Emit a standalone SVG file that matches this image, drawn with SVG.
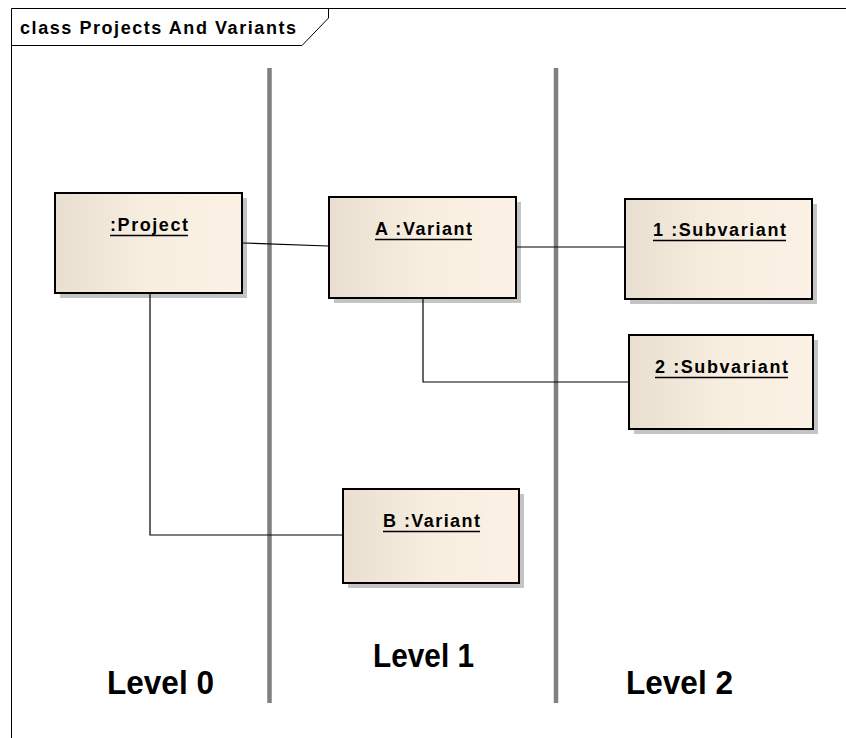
<svg xmlns="http://www.w3.org/2000/svg" width="846" height="738" viewBox="0 0 846 738">
<defs>
<linearGradient id="fill" x1="0" y1="0" x2="1" y2="0">
<stop offset="0" stop-color="#e8dfd0"/>
<stop offset="0.5" stop-color="#f7eee0"/>
<stop offset="1" stop-color="#fbf1e4"/>
</linearGradient>
<style>
.frame{fill:none;stroke:#000;stroke-width:1}
.title{font-family:"Liberation Sans",Arial,sans-serif;font-weight:bold;font-size:18px;fill:#000}
.shadow{fill:#c4c4c4}
.box{fill:url(#fill);stroke:#000;stroke-width:2}
.name{font-family:"Liberation Sans",Arial,sans-serif;font-weight:bold;font-size:18px;fill:#000;text-anchor:start}
.ul{stroke:#000;stroke-width:1.5}
.conn{fill:none;stroke:#000;stroke-width:1.2}
.sep{stroke:#808080;stroke-width:4.5}
.level{font-family:"Liberation Sans",Arial,sans-serif;font-weight:bold;font-size:33px;fill:#000}
</style>
</defs>
<rect width="846" height="738" fill="#fff"/>
<g id="frame">
<path class="frame" d="M11.5,738 V8.5 H846"/>
<path class="frame" d="M11.5,45.5 H302 L328.5,18 V8.5"/>
<text class="title" x="20" y="34" textLength="276" lengthAdjust="spacing">class Projects And Variants</text>
</g>
<g id="separators">
<line class="sep" x1="269.5" y1="68" x2="269.5" y2="703"/>
<line class="sep" x1="556" y1="68" x2="556" y2="703"/>
</g>
<g id="project">
<rect class="shadow" x="60" y="198" width="187" height="100"/>
<rect class="box" x="55" y="193" width="187" height="100"/>
<text class="name" x="110" y="231" textLength="78" lengthAdjust="spacing">:Project</text>
<line class="ul" x1="110" y1="235.5" x2="188" y2="235.5"/>
</g>
<g id="variantA">
<rect class="shadow" x="334" y="202" width="187" height="101"/>
<rect class="box" x="329" y="197" width="187" height="101"/>
<text class="name" x="375" y="235" textLength="97" lengthAdjust="spacing">A :Variant</text>
<line class="ul" x1="375" y1="239.5" x2="472" y2="239.5"/>
</g>
<g id="subvariant1">
<rect class="shadow" x="630" y="204" width="187" height="100"/>
<rect class="box" x="625" y="199" width="187" height="100"/>
<text class="name" x="653" y="236" textLength="133" lengthAdjust="spacing">1 :Subvariant</text>
<line class="ul" x1="653" y1="240.5" x2="786" y2="240.5"/>
</g>
<g id="subvariant2">
<rect class="shadow" x="634" y="340" width="184" height="94"/>
<rect class="box" x="629" y="335" width="184" height="94"/>
<text class="name" x="655" y="373" textLength="133" lengthAdjust="spacing">2 :Subvariant</text>
<line class="ul" x1="655" y1="377.5" x2="788" y2="377.5"/>
</g>
<g id="variantB">
<rect class="shadow" x="348" y="494" width="176" height="94"/>
<rect class="box" x="343" y="489" width="176" height="94"/>
<text class="name" x="383" y="527" textLength="97" lengthAdjust="spacing">B :Variant</text>
<line class="ul" x1="383" y1="531.5" x2="480" y2="531.5"/>
</g>
<g id="connectors">
<path class="conn" d="M243,243 L328,246"/>
<path class="conn" d="M517,247 H624"/>
<path class="conn" d="M423,299 V382 H628"/>
<path class="conn" d="M150,294 V535 H342"/>
</g>
<g id="levels">
<text class="level" x="107" y="694" textLength="107" lengthAdjust="spacingAndGlyphs">Level 0</text>
<text class="level" x="373" y="667" textLength="101" lengthAdjust="spacingAndGlyphs">Level 1</text>
<text class="level" x="626" y="694" textLength="107" lengthAdjust="spacingAndGlyphs">Level 2</text>
</g>
</svg>
